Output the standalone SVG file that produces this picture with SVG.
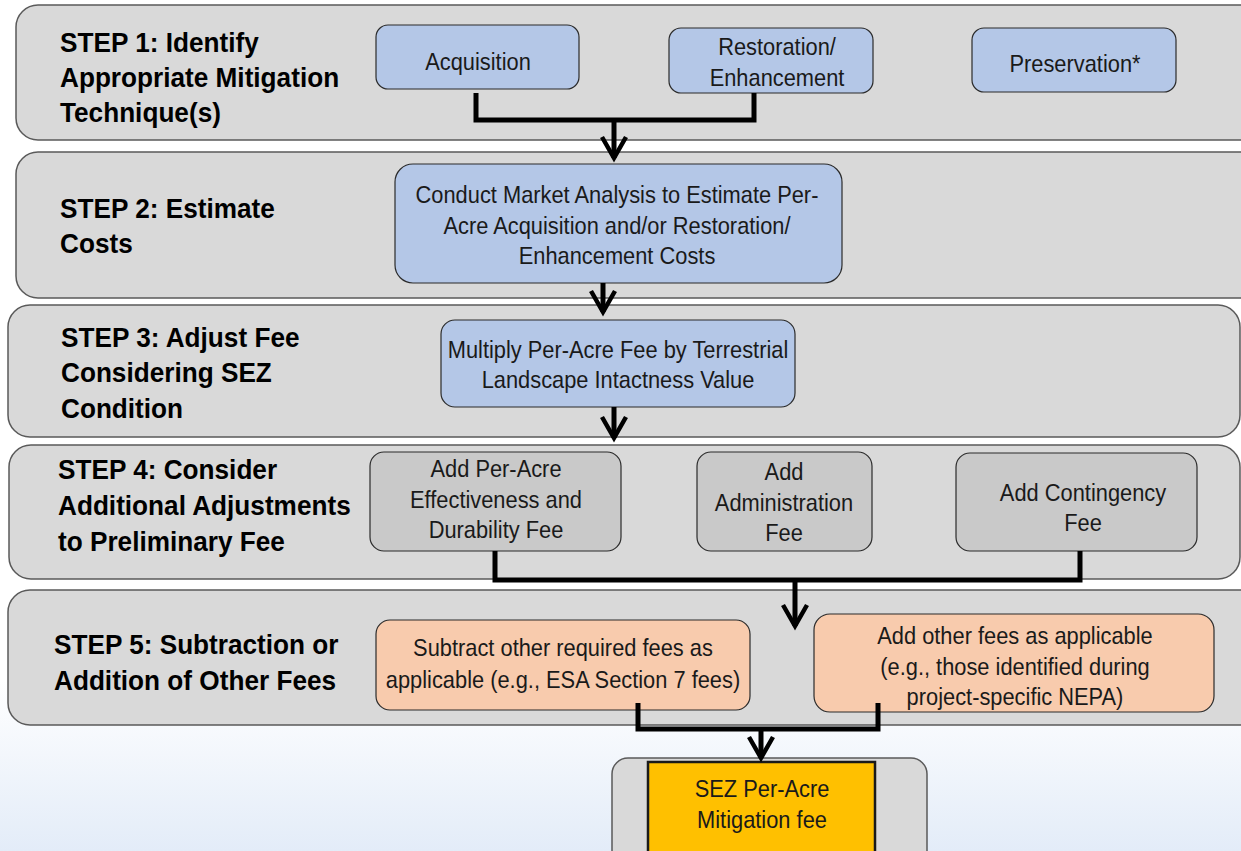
<svg xmlns="http://www.w3.org/2000/svg" width="1241" height="851" viewBox="0 0 1241 851">
<defs>
<linearGradient id="bg" x1="0" y1="0" x2="0" y2="1">
<stop offset="0" stop-color="#ffffff"/>
<stop offset="0.8" stop-color="#ffffff"/>
<stop offset="1" stop-color="#e3ecf8"/>
</linearGradient>
<marker id="ah" viewBox="-26 -16 30 32" markerWidth="30" markerHeight="32" refX="0" refY="0" orient="auto" markerUnits="userSpaceOnUse" overflow="visible">
<path d="M-21,-12 L0,0 L-21,12" fill="none" stroke="#000" stroke-width="4.5" stroke-linejoin="miter"/>
</marker>
<style>
.panel{fill:#d9d9d9;stroke:#5a5a5a;stroke-width:1.5}
.blue{fill:#b4c7e7;stroke:#2b2b2b;stroke-width:1.2}
.gray{fill:#c9c9c9;stroke:#2b2b2b;stroke-width:1.2}
.peach{fill:#f8cbad;stroke:#2b2b2b;stroke-width:1.2}
.yellow{fill:#ffc000;stroke:#1a1a1a;stroke-width:2.5}
.lbl{font-family:"Liberation Sans",Arial,sans-serif;font-weight:bold;font-size:28px;fill:#000}
.bt{font-family:"Liberation Sans",Arial,sans-serif;font-size:24px;fill:#1a1a1a;text-anchor:middle}
.conn{fill:none;stroke:#000;stroke-width:5;stroke-linejoin:miter}
.arr{fill:none;stroke:#000;stroke-width:5;marker-end:url(#ah)}
</style>
</defs>
<rect x="0" y="0" width="1241" height="851" fill="url(#bg)"/>

<g id="step1">
<rect class="panel" x="16" y="5" width="1250" height="135" rx="22"/>
<text class="lbl" transform="matrix(0.935 0 0 1 60 0)"><tspan x="0" y="52">STEP 1: Identify</tspan><tspan x="0" y="87">Appropriate Mitigation</tspan><tspan x="0" y="122">Technique(s)</tspan></text>
</g>
<g id="acquisition">
<rect class="blue" x="376" y="25" width="203" height="64" rx="12"/>
<text class="bt" transform="matrix(0.91 0 0 1 478 0)"><tspan x="0" y="70">Acquisition</tspan></text>
</g>
<g id="restoration">
<rect class="blue" x="669" y="28" width="204" height="65" rx="12"/>
<text class="bt" transform="matrix(0.91 0 0 1 777 0)"><tspan x="0" y="55">Restoration/</tspan><tspan x="0" y="86">Enhancement</tspan></text>
</g>
<g id="preservation">
<rect class="blue" x="972" y="28" width="204" height="64" rx="12"/>
<text class="bt" transform="matrix(0.91 0 0 1 1075 0)"><tspan x="0" y="72">Preservation*</tspan></text>
</g>

<g id="step2">
<rect class="panel" x="16" y="152" width="1250" height="146" rx="22"/>
<text class="lbl" transform="matrix(0.935 0 0 1 60 0)"><tspan x="0" y="218">STEP 2: Estimate</tspan><tspan x="0" y="253">Costs</tspan></text>
</g>
<g id="market">
<rect class="blue" x="395" y="164" width="447" height="119" rx="18"/>
<text class="bt" transform="matrix(0.91 0 0 1 617 0)"><tspan x="0" y="203">Conduct Market Analysis to Estimate Per-</tspan><tspan x="0" y="234">Acre Acquisition and/or Restoration/</tspan><tspan x="0" y="264">Enhancement Costs</tspan></text>
</g>

<g id="step3">
<rect class="panel" x="8" y="305" width="1232" height="132" rx="22"/>
<text class="lbl" transform="matrix(0.935 0 0 1 61 0)"><tspan x="0" y="347">STEP 3: Adjust Fee</tspan><tspan x="0" y="382">Considering SEZ</tspan><tspan x="0" y="418">Condition</tspan></text>
</g>
<g id="multiply">
<rect class="blue" x="441" y="320" width="354" height="87" rx="14"/>
<text class="bt" transform="matrix(0.91 0 0 1 618 0)"><tspan x="0" y="358">Multiply Per-Acre Fee by Terrestrial</tspan><tspan x="0" y="388">Landscape Intactness Value</tspan></text>
</g>

<g id="step4">
<rect class="panel" x="9" y="445" width="1231" height="134" rx="22"/>
<text class="lbl" transform="matrix(0.935 0 0 1 58 0)"><tspan x="0" y="479">STEP 4: Consider</tspan><tspan x="0" y="515">Additional Adjustments</tspan><tspan x="0" y="551">to Preliminary Fee</tspan></text>
</g>
<g id="effectiveness">
<rect class="gray" x="370" y="452" width="251" height="99" rx="14"/>
<text class="bt" transform="matrix(0.91 0 0 1 496 0)"><tspan x="0" y="477">Add Per-Acre</tspan><tspan x="0" y="508">Effectiveness and</tspan><tspan x="0" y="538">Durability Fee</tspan></text>
</g>
<g id="administration">
<rect class="gray" x="697" y="452" width="175" height="99" rx="14"/>
<text class="bt" transform="matrix(0.91 0 0 1 784 0)"><tspan x="0" y="480">Add</tspan><tspan x="0" y="511">Administration</tspan><tspan x="0" y="541">Fee</tspan></text>
</g>
<g id="contingency">
<rect class="gray" x="956" y="453" width="241" height="98" rx="14"/>
<text class="bt" transform="matrix(0.91 0 0 1 1083 0)"><tspan x="0" y="501">Add Contingency</tspan><tspan x="0" y="531">Fee</tspan></text>
</g>

<g id="step5">
<rect class="panel" x="8" y="590" width="1258" height="135" rx="22"/>
<text class="lbl" transform="matrix(0.935 0 0 1 54 0)"><tspan x="0" y="654">STEP 5: Subtraction or</tspan><tspan x="0" y="690">Addition of Other Fees</tspan></text>
</g>
<g id="subtract">
<rect class="peach" x="376" y="620" width="374" height="90" rx="14"/>
<text class="bt" transform="matrix(0.91 0 0 1 563 0)"><tspan x="0" y="656">Subtract other required fees as</tspan><tspan x="0" y="688">applicable (e.g., ESA Section 7 fees)</tspan></text>
</g>
<g id="addother">
<rect class="peach" x="814" y="614" width="400" height="98" rx="16"/>
<text class="bt" transform="matrix(0.91 0 0 1 1015 0)"><tspan x="0" y="644">Add other fees as applicable</tspan><tspan x="0" y="675">(e.g., those identified during</tspan><tspan x="0" y="705">project-specific NEPA)</tspan></text>
</g>

<g id="result">
<rect class="panel" x="612" y="758" width="315" height="120" rx="16"/>
<rect class="yellow" x="648" y="762" width="227" height="110"/>
<text class="bt" transform="matrix(0.91 0 0 1 762 0)"><tspan x="0" y="797">SEZ Per-Acre</tspan><tspan x="0" y="828">Mitigation fee</tspan></text>
</g>

<g id="connectors">
<polyline class="conn" points="476,93 476,120 754,120 754,93"/>
<line class="arr" x1="614" y1="120" x2="614" y2="158"/>
<line class="arr" x1="603" y1="283" x2="603" y2="312"/>
<line class="arr" x1="614" y1="407" x2="614" y2="438"/>
<polyline class="conn" points="495,551 495,580 1080,580 1080,551"/>
<line class="arr" x1="795" y1="580" x2="795" y2="626"/>
<polyline class="conn" points="638,703 638,729 878,729 878,703"/>
<line class="arr" x1="761" y1="729" x2="761" y2="758"/>
</g>
</svg>
